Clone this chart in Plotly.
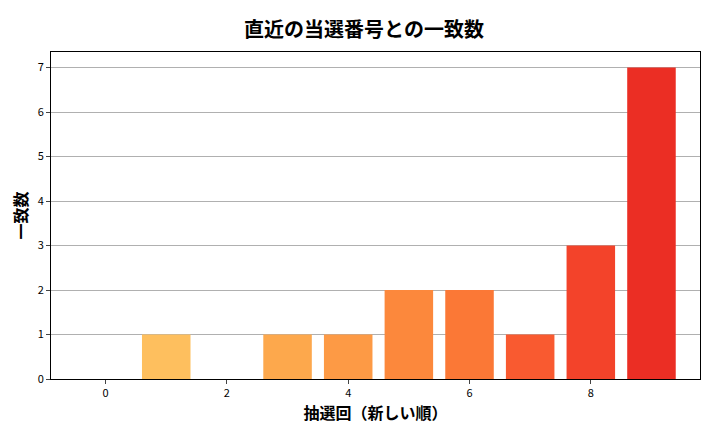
import plotly.graph_objects as go

DRAWS = list(range(10))
MATCHES = [0, 1, 0, 1, 1, 2, 2, 1, 3, 7]
COLORS = ["#FEC966", "#FEBF5E", "#FEB254", "#FDA84C", "#FD9A45",
          "#FC883C", "#FB7836", "#F95A30", "#F3432A", "#EB2E24"]

FONT = "Noto Sans CJK JP"

fig = go.Figure(go.Bar(x=DRAWS, y=MATCHES, width=0.8, marker=dict(color=COLORS, line_width=0)))
fig.update_layout(
    width=712, height=424,
    plot_bgcolor="white", paper_bgcolor="white",
    margin=dict(l=40, r=20, t=44, b=53),
    font=dict(family=FONT, size=11, color="black"),
    title=dict(text="<b>直近の当選番号との一致数</b>", x=0.5, xanchor="center", y=0.965,
               font=dict(size=20)),
    showlegend=False,
)
fig.update_xaxes(range=[-0.9, 9.8], tickvals=[0, 2, 4, 6, 8], showgrid=False,
                 showline=True, linecolor="black", mirror=True, ticks="outside", ticklen=4,
                 title=dict(text="<b>抽選回（新しい順）</b>", font=dict(size=16), standoff=4))
fig.update_yaxes(range=[0, 7.35], dtick=1, showgrid=True, gridcolor="#b0b0b0",
                 showline=True, linecolor="black", mirror=True, ticks="outside", ticklen=4,
                 zeroline=False,
                 title=dict(text="<b>一致数</b>", font=dict(size=16), standoff=6))
fig.write_html("out.html")
